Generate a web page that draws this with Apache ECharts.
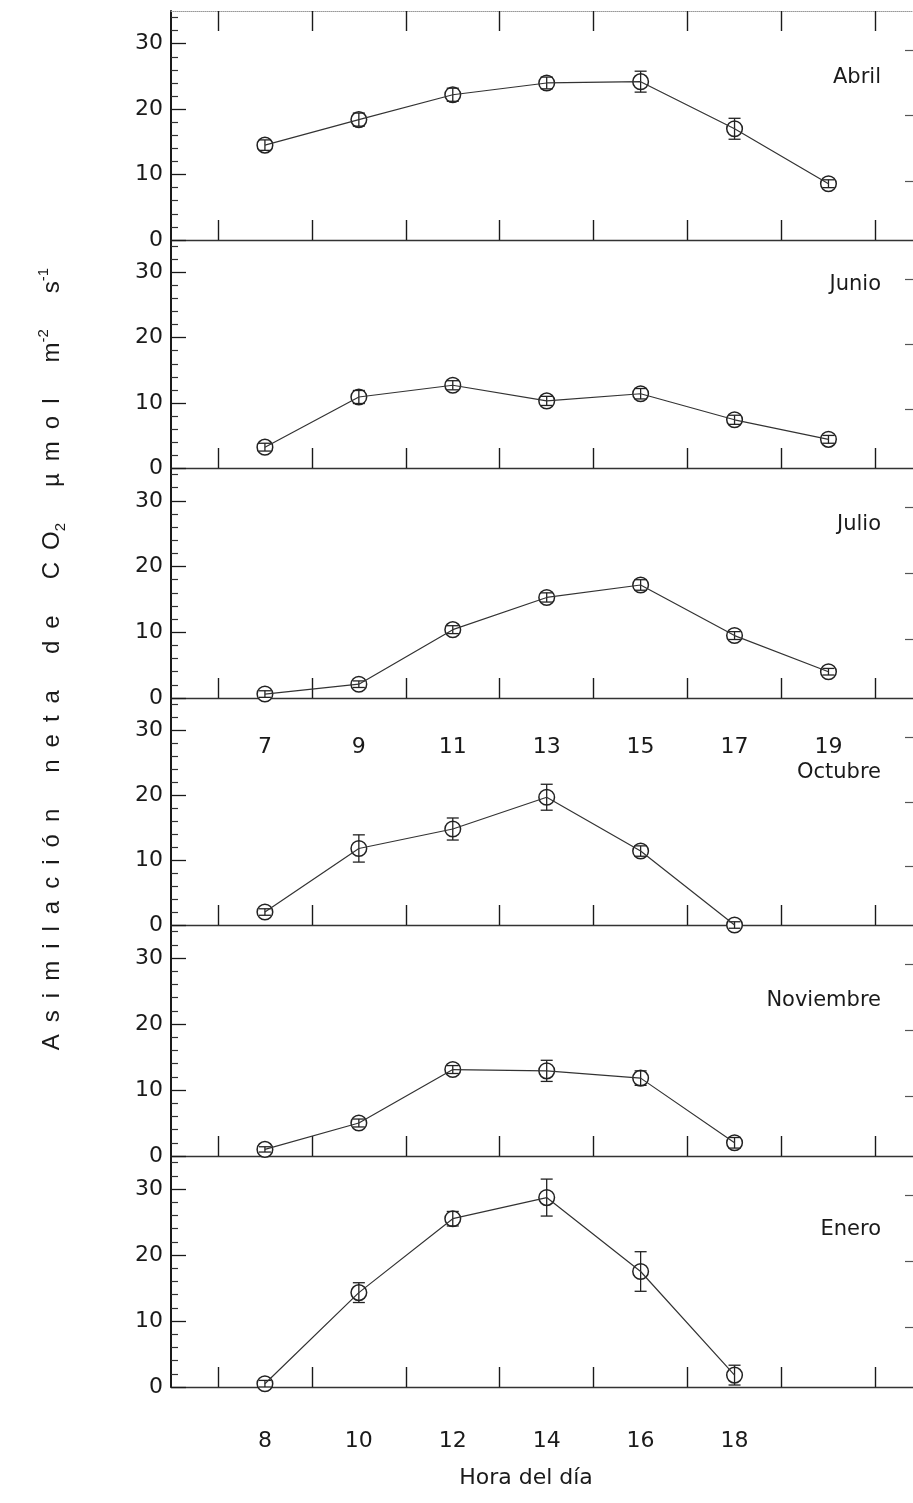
<!DOCTYPE html>
<html>
<head>
<meta charset="utf-8">
<script src="https://cdn.jsdelivr.net/npm/echarts@6/dist/echarts.min.js"></script>
<style>
  html, body { margin: 0; padding: 0; background: #fff; }
  #chart { width: 913px; height: 1503px; }
</style>
</head>
<body>
<div id="chart"></div>
<script>
// ---------- data ----------
const months = ['Abril', 'Junio', 'Julio', 'Octubre', 'Noviembre', 'Enero'];
const hoursA = [7, 9, 11, 13, 15, 17, 19];       // Abril, Junio, Julio
const hoursB = [8, 10, 12, 14, 16, 18];          // Octubre, Noviembre, Enero

const abril = [14.5, 18.4, 22.2, 24.0, 24.2, 17.0, 8.6];
const abrilErr = [0.8, 1.0, 1.0, 0.9, 1.6, 1.6, 0.6];
const junio = [3.2, 10.9, 12.7, 10.3, 11.4, 7.4, 4.4];
const junioErr = [0.6, 1.0, 0.7, 0.7, 0.8, 0.7, 0.6];
const julio = [0.6, 2.1, 10.4, 15.3, 17.2, 9.5, 4.0];
const julioErr = [0.5, 0.5, 0.6, 0.7, 0.8, 0.6, 0.5];
const octubre = [2.0, 11.8, 14.8, 19.7, 11.4, 0.0];
const octubreErr = [0.5, 2.1, 1.7, 2.0, 0.8, 0.5];
const noviembre = [1.0, 5.0, 13.1, 12.9, 11.8, 2.0];
const noviembreErr = [0.4, 0.6, 0.6, 1.6, 1.1, 0.8];
const enero = [0.5, 14.3, 25.5, 28.7, 17.5, 1.8];
const eneroErr = [0.5, 1.5, 1.1, 2.8, 3.0, 1.5];

const yTickLabels = [0, 10, 20, 30];
const yMinorTicks = [2, 4, 6, 8, 12, 14, 16, 18, 22, 24, 26, 28, 32, 34];
const yRightTicks = [9, 19, 29];
const xTicksA = [6, 8, 10, 12, 14, 16, 18, 20];
const xTicksB = [7, 9, 11, 13, 15, 17, 19, 21];
const xLabelsA = [7, 9, 11, 13, 15, 17, 19];
const xLabelsB = [8, 10, 12, 14, 16, 18];

const xTitle = 'Hora del día';

// ---------- layout ----------
const FONT = 'DejaVu Sans, Liberation Sans, Arial, sans-serif';
const TFONT = 'Liberation Sans, Arial, sans-serif';
const panelTop = 11;
const panelZero = [240, 468, 698, 925, 1156, 1387];
const gridLeft = 171, gridWidth = 742;
const labelY = [78, 285, 525, 773, 1001, 1230];

const panels = [
  { x: hoursA, y: abril, e: abrilErr, set: 'A', labels: false },
  { x: hoursA, y: junio, e: junioErr, set: 'A', labels: false },
  { x: hoursA, y: julio, e: julioErr, set: 'A', labels: true, margin: 38 },
  { x: hoursB, y: octubre, e: octubreErr, set: 'B', labels: false },
  { x: hoursB, y: noviembre, e: noviembreErr, set: 'B', labels: false },
  { x: hoursB, y: enero, e: eneroErr, set: 'B', labels: true, margin: 43 }
];

const grids = [], xAxes = [], yAxes = [], series = [];
const INK = '#1a1a1a';

panels.forEach((p, i) => {
  const top = i === 0 ? panelTop : panelZero[i - 1];
  const height = panelZero[i] - top;
  grids.push({ left: gridLeft, top: top, width: gridWidth, height: height, containLabel: false });

  const isA = p.set === 'A';
  const xi = xAxes.length;
  xAxes.push({
    type: 'value', gridIndex: i, position: 'bottom',
    min: isA ? 5 : 6, max: isA ? 20.8 : 21.8,
    axisLine: { show: true, onZero: false, lineStyle: { color: '#333', width: 1.3 } },
    axisTick: { show: true, inside: true, length: 20, customValues: isA ? xTicksA : xTicksB,
                lineStyle: { color: INK, width: 1.4 } },
    axisLabel: { show: p.labels, customValues: isA ? xLabelsA : xLabelsB, margin: p.margin || 8,
                 fontSize: 22, color: INK, fontFamily: FONT },
    splitLine: { show: false }
  });
  if (i === 0) {
    xAxes.push({
      type: 'value', gridIndex: 0, position: 'top',
      min: 5, max: 20.8,
      axisLine: { show: true, onZero: false, lineStyle: { color: '#999', width: 1, type: 'dotted' } },
      axisTick: { show: true, inside: true, length: 20, customValues: xTicksA,
                  lineStyle: { color: INK, width: 1.4 } },
      axisLabel: { show: false },
      splitLine: { show: false }
    });
  }

  const yi = yAxes.length;
  yAxes.push({
    type: 'value', gridIndex: i, position: 'left', min: 0, max: 35,
    axisLine: { show: true, onZero: false, lineStyle: { color: INK, width: 2 } },
    axisTick: { show: true, inside: true, length: 15, customValues: yTickLabels,
                lineStyle: { color: INK, width: 1.3 } },
    axisLabel: { show: true, customValues: yTickLabels, margin: 8, fontSize: 22, color: INK, fontFamily: FONT },
    splitLine: { show: false }
  });
  yAxes.push({
    type: 'value', gridIndex: i, position: 'left', min: 0, max: 35,
    axisLine: { show: false },
    axisTick: { show: true, inside: true, length: 7, customValues: yMinorTicks,
                lineStyle: { color: '#333', width: 1.2 } },
    axisLabel: { show: false },
    splitLine: { show: false }
  });
  yAxes.push({
    type: 'value', gridIndex: i, position: 'right', min: 0, max: 35,
    axisLine: { show: false },
    axisTick: { show: true, inside: true, length: 8, customValues: yRightTicks,
                lineStyle: { color: '#555', width: 1.2 } },
    axisLabel: { show: false },
    splitLine: { show: false }
  });

  const pts = p.x.map((h, k) => [h, p.y[k], p.e[k]]);
  series.push({
    type: 'line', xAxisIndex: xi, yAxisIndex: yi, data: pts.map(d => [d[0], d[1]]),
    showSymbol: false, clip: false, silent: true, animation: false,
    lineStyle: { color: '#333', width: 1.2 }
  });
  series.push({
    type: 'custom', xAxisIndex: xi, yAxisIndex: yi, data: pts, clip: false, animation: false, silent: true,
    encode: { x: 0, y: 1 },
    renderItem: function (params, api) {
      const x = api.value(0), y = api.value(1), e = api.value(2);
      const c = api.coord([x, y]);
      const t = api.coord([x, y + e]);
      const b = api.coord([x, y - e]);
      const cap = 6;
      const ls = { stroke: '#222', lineWidth: 1.3 };
      return {
        type: 'group',
        children: [
          { type: 'circle', shape: { cx: c[0], cy: c[1], r: 7.8 },
            style: { fill: '#fff', stroke: '#222', lineWidth: 1.5 } },
          { type: 'line', shape: { x1: t[0], y1: t[1], x2: b[0], y2: b[1] }, style: ls },
          { type: 'line', shape: { x1: t[0] - cap, y1: t[1], x2: t[0] + cap, y2: t[1] }, style: ls },
          { type: 'line', shape: { x1: b[0] - cap, y1: b[1], x2: b[0] + cap, y2: b[1] }, style: ls }
        ]
      };
    }
  });
});

const graphics = months.map((m, i) => ({
  type: 'text', x: 881, y: labelY[i],
  style: { text: m, font: '21px ' + FONT, fill: INK, textAlign: 'right', textVerticalAlign: 'middle' }
}));
graphics.push({
  type: 'text', x: 526, y: 1478,
  style: { text: xTitle, font: '22px ' + FONT, fill: INK, textAlign: 'center', textVerticalAlign: 'middle' }
});
const g = '\u2002', W = '\u2002\u2002\u2002';
const spaced = s => s.split('').join(g);
graphics.push({
  type: 'text', x: 52, y: 659, rotation: Math.PI / 2,
  style: {
    text: '{n|' + spaced('Asimilación') + W + spaced('neta') + W + spaced('de') + W + spaced('CO') + '}{sub|2}' +
          '{n|' + W + spaced('µmol') + W + 'm}{sup|-2}{n|' + W + 's}{sup|-1}',
    textAlign: 'center', textVerticalAlign: 'middle', fill: INK,
    rich: {
      n: { fontSize: 24, fontFamily: TFONT, lineHeight: 32, fill: INK },
      sup: { fontSize: 15, fontFamily: TFONT, lineHeight: 15, verticalAlign: 'top', fill: INK },
      sub: { fontSize: 15, fontFamily: TFONT, lineHeight: 15, verticalAlign: 'bottom', fill: INK }
    }
  }
});

const chart = echarts.init(document.getElementById('chart'), null, { renderer: 'canvas' });
chart.setOption({
  backgroundColor: '#fff',
  animation: false,
  grid: grids,
  xAxis: xAxes,
  yAxis: yAxes,
  series: series,
  graphic: graphics
});
</script>
</body>
</html>
